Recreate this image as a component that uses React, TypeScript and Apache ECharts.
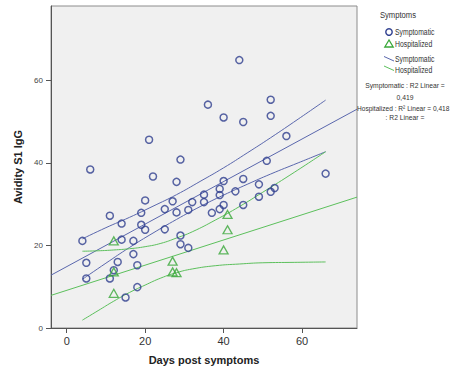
import React, { useEffect, useRef } from "react";
import * as echarts from "echarts";

// Symptomatic observations (days post symptoms, avidity S1 IgG)
const symptomaticDays = [
  6, 21, 29, 22, 28, 36, 40, 44, 45, 52, 52, 56, 51, 66, 40, 45, 49, 43, 52, 53,
  49, 27, 25, 28, 31, 32, 35, 35, 37, 39, 39, 39, 40, 45, 25, 29, 29, 31, 20, 11,
  19, 14, 19, 20, 4, 14, 17, 5, 13, 17, 18, 12, 5, 11, 18, 15,
];
const symptomaticAvidity = [
  38.4, 45.6, 40.8, 36.7, 35.4, 54.1, 51.0, 64.9, 49.9, 55.3, 51.4, 46.5, 40.5, 37.4, 35.6, 36.1, 34.8, 33.1, 33.0, 33.9,
  31.8, 30.7, 28.8, 28.0, 28.6, 30.5, 32.3, 30.5, 27.9, 33.7, 32.2, 28.8, 29.8, 29.8, 23.9, 22.4, 20.3, 19.4, 30.9, 27.2,
  27.9, 25.3, 25.0, 23.8, 21.1, 21.4, 21.1, 15.8, 16.0, 17.9, 15.2, 14.0, 12.0, 12.0, 9.9, 7.4,
];

// Hospitalized observations
const hospitalizedDays = [12, 12, 12, 27, 27, 28, 41, 41, 40];
const hospitalizedAvidity = [21.1, 13.6, 8.4, 16.2, 13.6, 13.4, 27.5, 23.8, 18.9];

// Linear fit lines (read at plot edges)
const fitDays = [-4, 74];
const symptomaticFit = [12.8, 53.0];
const hospitalizedFit = [7.9, 31.7];

// Mean confidence interval curves
const symptomaticCiDays = [4, 10, 16, 22, 28, 34, 40, 46, 52, 59, 66];
const symptomaticUpper = [21.6, 24.3, 26.8, 29.5, 32.3, 35.5, 38.8, 42.4, 46.1, 50.6, 55.2];
const symptomaticLower = [11.8, 15.7, 19.5, 23.0, 26.3, 29.4, 32.2, 34.8, 37.3, 40.0, 42.7];

const hospitalizedCiDays = [4, 8, 12, 16, 20, 24, 28, 32, 38, 44, 50, 58, 66];
const hospitalizedUpper = [18.6, 18.7, 18.9, 19.2, 19.7, 20.5, 21.8, 23.3, 26.2, 29.4, 32.9, 37.7, 42.7];
const hospitalizedLower = [1.9, 4.2, 6.5, 8.6, 10.4, 12.1, 13.4, 14.3, 15.1, 15.5, 15.8, 15.9, 16.0];

const xTicks = [0, 20, 40, 60];
const yTicks = [0, 20, 40, 60];

const NAVY = "#2f3f8f";
const BLUE_LINE = "#5a67ad";
const GREEN = "#3aa83a";
const GREEN_LINE = "#5cc05c";
const FONT = "Liberation Sans, Arial, sans-serif";

const pairs = (xs: number[], ys: number[]) => xs.map((x, i) => [x, ys[i]]);

export default function App() {
  const ref = useRef<HTMLDivElement>(null);

  useEffect(() => {
    if (!ref.current) return;
    const chart = echarts.init(ref.current, undefined, { renderer: "svg" });

    const lineSeries = (name: string, data: number[][], color: string, smooth: boolean) => ({
      name,
      type: "line",
      data,
      symbol: "none",
      smooth,
      lineStyle: { color, width: 1 },
      silent: true,
      z: 3,
    });

    const legendText = (text: string, x: number, y: number, extra: any = {}) => ({
      type: "text",
      x,
      y,
      scaleX: extra.scaleX ?? 0.72,
      style: {
        text,
        fontSize: extra.fontSize ?? 9.5,
        fontFamily: FONT,
        fill: "#333",
        align: extra.align ?? "left",
        verticalAlign: "middle",
      },
    });

    chart.setOption({
      animation: false,
      backgroundColor: "#ffffff",
      grid: {
        left: 51,
        top: 6,
        width: 306,
        height: 322,
        show: true,
        backgroundColor: "#f0f0f0",
        borderColor: "#8c8c8c",
        borderWidth: 1,
      },
      xAxis: {
        type: "value",
        min: -4,
        max: 74,
        name: "Days post symptoms",
        nameLocation: "middle",
        nameGap: 26,
        nameTextStyle: { fontFamily: FONT, fontSize: 11, fontWeight: "bold", color: "#222" },
        axisLine: { show: true, onZero: false, lineStyle: { color: "#555", width: 1 } },
        axisTick: { show: true, customValues: xTicks, length: 5, lineStyle: { color: "#555" } },
        axisLabel: { customValues: xTicks, fontFamily: FONT, fontSize: 11, color: "#333", margin: 7 },
        splitLine: { show: false },
      },
      yAxis: {
        type: "value",
        min: 0,
        max: 78,
        name: "Avidity S1 IgG",
        nameLocation: "middle",
        nameGap: 23,
        nameRotate: 90,
        nameTextStyle: { fontFamily: FONT, fontSize: 11, fontWeight: "bold", color: "#222" },
        axisLine: { show: true, onZero: false, lineStyle: { color: "#555", width: 1 } },
        axisTick: { show: true, customValues: yTicks, length: 5, lineStyle: { color: "#555" } },
        axisLabel: { customValues: yTicks, fontFamily: FONT, fontSize: 8, color: "#444", margin: 8 },
        splitLine: { show: false },
      },
      series: [
        lineSeries("Symptomatic fit", pairs(fitDays, symptomaticFit), BLUE_LINE, false),
        lineSeries("Symptomatic upper", pairs(symptomaticCiDays, symptomaticUpper), BLUE_LINE, true),
        lineSeries("Symptomatic lower", pairs(symptomaticCiDays, symptomaticLower), BLUE_LINE, true),
        lineSeries("Hospitalized fit", pairs(fitDays, hospitalizedFit), GREEN_LINE, false),
        lineSeries("Hospitalized upper", pairs(hospitalizedCiDays, hospitalizedUpper), GREEN_LINE, true),
        lineSeries("Hospitalized lower", pairs(hospitalizedCiDays, hospitalizedLower), GREEN_LINE, true),
        {
          name: "Symptomatic",
          type: "scatter",
          data: pairs(symptomaticDays, symptomaticAvidity),
          symbol: "circle",
          symbolSize: 7,
          itemStyle: { color: "rgba(0,0,0,0)", borderColor: NAVY, borderWidth: 1.5 },
          z: 4,
        },
        {
          name: "Hospitalized",
          type: "scatter",
          data: pairs(hospitalizedDays, hospitalizedAvidity),
          symbol: "triangle",
          symbolSize: [9, 8],
          itemStyle: { color: "rgba(0,0,0,0)", borderColor: GREEN, borderWidth: 1.3 },
          z: 4,
        },
      ],
      graphic: [
        legendText("Symptoms", 398, 15, { align: "center", scaleX: 0.85, fontSize: 9 }),
        {
          type: "circle",
          shape: { cx: 389, cy: 32, r: 3.2 },
          style: { fill: "none", stroke: NAVY, lineWidth: 1.4 },
        },
        legendText("Symptomatic", 395, 32),
        {
          type: "polygon",
          shape: { points: [[389, 40], [384.8, 47], [393.2, 47]] },
          style: { fill: "none", stroke: GREEN, lineWidth: 1.3 },
        },
        legendText("Hospitalized", 395, 44),
        {
          type: "line",
          shape: { x1: 384, y1: 56.5, x2: 394, y2: 61 },
          style: { stroke: BLUE_LINE, lineWidth: 1 },
        },
        legendText("Symptomatic", 395, 59),
        {
          type: "line",
          shape: { x1: 384, y1: 66, x2: 394, y2: 70.5 },
          style: { stroke: GREEN_LINE, lineWidth: 1 },
        },
        legendText("Hospitalized", 395, 70.5),
        legendText("Symptomatic : R2 Linear =", 405, 85.5, { align: "center", fontSize: 7.5, scaleX: 0.9 }),
        legendText("0,419", 405, 97.5, { align: "center", fontSize: 7.5, scaleX: 0.9 }),
        legendText("Hospitalized : R\u00b2 Linear = 0,418", 357, 108, { fontSize: 7.5, scaleX: 0.88 }),
        legendText(": R2 Linear =", 405, 118, { align: "center", fontSize: 7.5, scaleX: 0.9 }),
      ],
    });

    return () => chart.dispose();
  }, []);

  return (
    <div
      ref={ref}
      style={{ position: "fixed", left: 0, top: 0, width: 466, height: 374, background: "#fff" }}
    />
  );
}
